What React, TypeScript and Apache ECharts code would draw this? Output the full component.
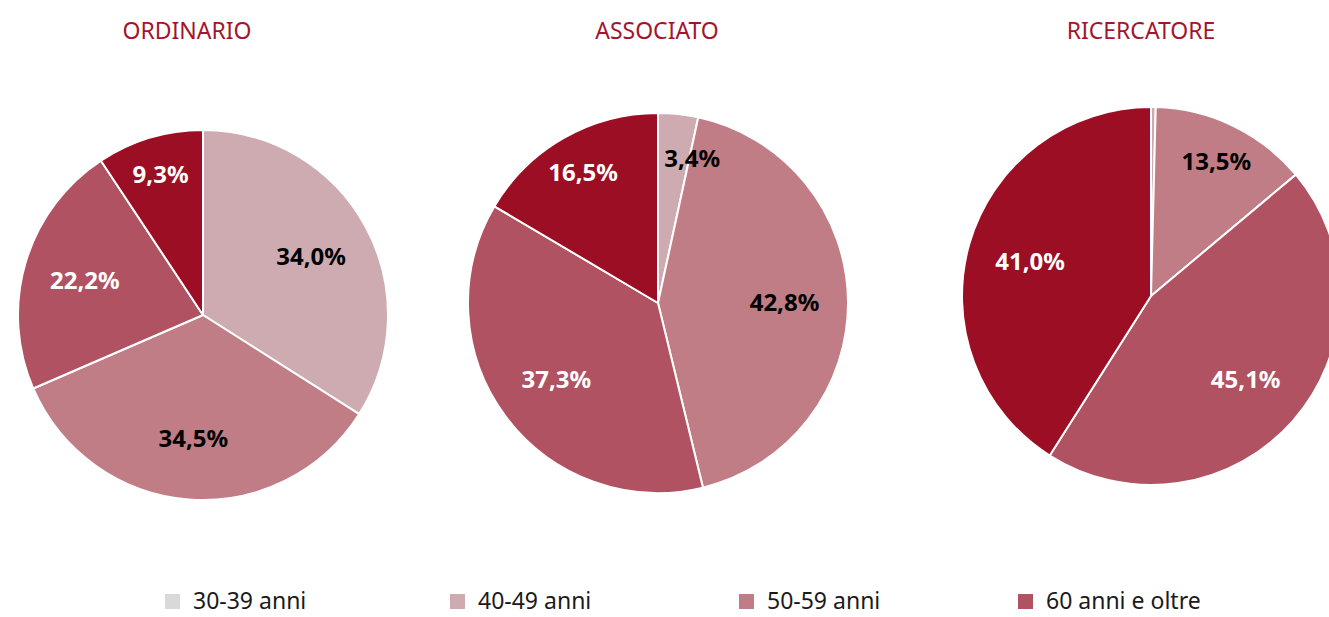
import React, { useEffect, useRef } from "react";
import * as echarts from "echarts";

// ---- data ----
const groups = ["ORDINARIO", "ASSOCIATO", "RICERCATORE"];
const categories = ["30-39 anni", "40-49 anni", "50-59 anni", "60 anni e oltre"];
const legendColors = ["#D9D9D9", "#CDABB0", "#C07D86", "#B05261"];
const sliceColors = ["#CDABB0", "#C07D86", "#B05261", "#9B0E23"];
const ordinario = [34.0, 34.5, 22.2, 9.3];
const associato = [3.4, 42.8, 37.3, 16.5];
const ricercatore = [0.4, 13.5, 45.1, 41.0];
const groupValues = [ordinario, associato, ricercatore];

const FONT = "'Noto Sans', sans-serif";
const fmt = (v: number) => v.toFixed(1).replace(".", ",") + "%";

export default function App() {
  const ref = useRef<HTMLDivElement>(null);
  useEffect(() => {
    if (!ref.current) return;
    const chart = echarts.init(ref.current, undefined, { renderer: "svg" });

    const layout = [
      { cx: 203, cy: 315, r: 185, tx: 187 },
      { cx: 658, cy: 303, r: 190, tx: 657 },
      { cx: 1151, cy: 296, r: 189, tx: 1141 },
    ];
    const labelColor = (j: number) => (j < 2 ? "#000000" : "#FFFFFF");

    const series: any[] = [];
    groupValues.forEach((vals, i) => {
      const { cx, cy, r } = layout[i];
      series.push({
        type: "pie",
        center: [cx, cy],
        radius: r,
        startAngle: 90,
        clockwise: true,
        silent: true,
        emphasis: { disabled: true },
        label: { show: false },
        labelLine: { show: false },
        itemStyle: { borderColor: "#FFFFFF", borderWidth: 2 },
        data: vals.map((v, j) => ({
          name: categories[j],
          value: v,
          itemStyle: { color: sliceColors[j] },
        })),
      });
      const labelSeries = (inner: number, outer: number, pred: (v: number) => boolean) => ({
        type: "pie",
        center: [cx, cy],
        radius: [inner * r, outer * r],
        startAngle: 90,
        clockwise: true,
        silent: true,
        emphasis: { disabled: true },
        avoidLabelOverlap: false,
        itemStyle: { color: "rgba(0,0,0,0)", borderWidth: 0 },
        labelLine: { show: false },
        // nudge very thin slices' labels away from the slice edge
        labelLayout: (p: any) => (vals[p.dataIndex] < 5 ? { dx: 18, dy: 5 } : {}),
        data: vals.map((v, j) => ({
          name: categories[j],
          value: v,
          itemStyle: { color: "rgba(0,0,0,0)" },
          label: {
            show: pred(v),
            position: "inside",
            formatter: () => fmt(v),
            color: labelColor(j),
            fontFamily: FONT,
            fontWeight: "bold",
            fontSize: 24,
          },
        })),
      });
      series.push(labelSeries(0.4, 0.9, (v) => v >= 20));
      series.push(labelSeries(0.56, 1.0, (v) => v >= 1 && v < 20));
    });

    // legend drawn as graphic elements (marker + text) for exact spacing
    const legendLefts = [165, 450, 739, 1018];
    const legendGraphic: any[] = [];
    categories.forEach((c, k) => {
      legendGraphic.push({
        type: "rect",
        silent: true,
        shape: { x: legendLefts[k], y: 594, width: 15, height: 15 },
        style: { fill: legendColors[k] },
      });
      legendGraphic.push({
        type: "text",
        silent: true,
        x: legendLefts[k] + 28,
        y: 600,
        style: {
          text: c,
          fill: "#1A1A1A",
          fontFamily: FONT,
          fontSize: 23,
          lineHeight: 20,
          verticalAlign: "middle",
          align: "left",
        },
      });
    });

    chart.setOption({
      animation: false,
      backgroundColor: "#FFFFFF",
      title: groups.map((g, i) => ({
        text: g,
        left: layout[i].tx,
        top: 18,
        padding: 0,
        textAlign: "center",
        textStyle: {
          fontFamily: FONT,
          fontSize: 23,
          fontWeight: "normal",
          color: "#A3152D",
        },
      })),
      graphic: legendGraphic,
      series,
    });
    return () => chart.dispose();
  }, []);
  return (
    <div
      ref={ref}
      style={{ position: "fixed", left: 0, top: 0, width: 1329, height: 617 }}
    />
  );
}
